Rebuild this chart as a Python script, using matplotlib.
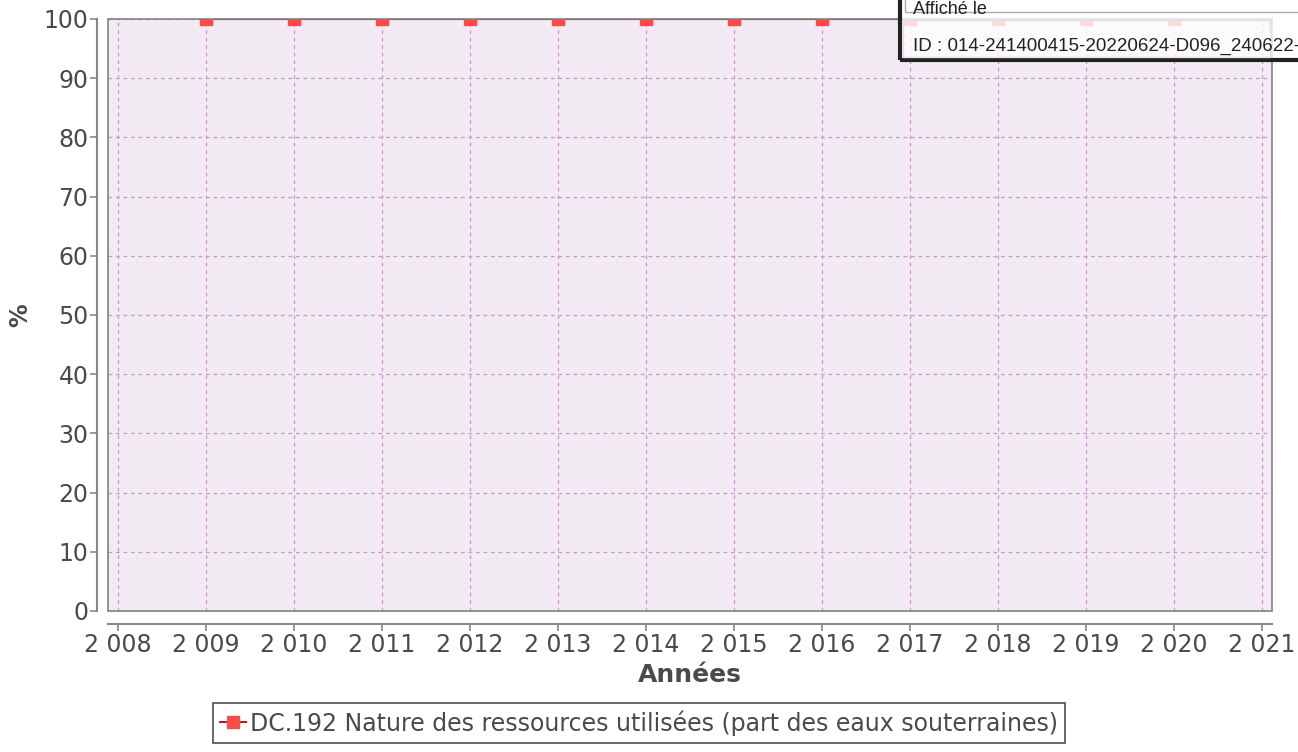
import numpy as np
import matplotlib.pyplot as plt
from matplotlib.patches import Rectangle
from matplotlib.ticker import FuncFormatter

# données
annees = [2009, 2010, 2011, 2012, 2013, 2014, 2015, 2016, 2017, 2018, 2019, 2020]
part_eaux_sout = [100, 100, 100, 100, 100, 100, 100, 100, 100, 100, 100, 100]
yticks = [0, 10, 20, 30, 40, 50, 60, 70, 80, 90, 100]
xticks = list(range(2008, 2022))
serie = "DC.192 Nature des ressources utilisées (part des eaux souterraines)"

W, H = 1298, 752
gris = "#4a4a4a"

fig = plt.figure(figsize=(W / 100, H / 100), dpi=100)
ax = fig.add_axes([108 / W, 1 - 611 / H, (1272 - 108) / W, (611 - 19) / H])

def px(x, y):
    # pixels image -> fraction de figure
    return x / W, 1 - y / H

ax.set_facecolor("#f3ebf3")
ax.plot(annees, part_eaux_sout, color="#b02020", lw=1.5, marker="s",
        markersize=9, markerfacecolor="#ff4a4a", markeredgecolor="#ff4a4a",
        label=serie, zorder=3)

ax.set_xlim(2008 - 10 / 88, 2021 + 10 / 88)
ax.set_ylim(0, 100)
ax.set_xticks(xticks)
ax.set_yticks(yticks)
ax.xaxis.set_major_formatter(FuncFormatter(lambda v, p: f"{int(v):,}".replace(",", " ")))
ax.grid(True, color="#c996cc", ls=(0, (3, 3)), lw=0.9)
ax.set_axisbelow(True)

# axes décalés façon JFreeChart
for s in ["top", "right"]:
    ax.spines[s].set_visible(False)
ax.spines["left"].set_position(("outward", 8))
ax.spines["bottom"].set_position(("outward", 9))
for s in ["left", "bottom"]:
    ax.spines[s].set_color("#888888")
    ax.spines[s].set_linewidth(1.5)
ax.add_patch(Rectangle((0, 0), 1, 1, transform=ax.transAxes, fill=False,
                       edgecolor="#808080", lw=1.2, clip_on=False, zorder=4))
ax.tick_params(colors="#888888", labelcolor=gris, labelsize=17, length=5, width=1.2)
ax.tick_params(axis="x", pad=2)
ax.tick_params(axis="y", pad=1)

ax.set_xlabel("Années", fontsize=18, fontweight="bold", color=gris, labelpad=4)
fig.text(*px(20, 315), "%", fontsize=17, fontweight="bold", color=gris,
         rotation=90, ha="center", va="center")

leg = ax.legend(loc="center", bbox_to_anchor=(px(639, 723)), bbox_transform=fig.transFigure,
                frameon=True, fancybox=False, fontsize=17, handlelength=1.1,
                handletextpad=0.2, borderpad=0.3, borderaxespad=0)
leg.get_frame().set_edgecolor("#222222")
leg.get_frame().set_linewidth(1.2)
for t in leg.get_texts():
    t.set_color(gris)

# tampon "Affiché le" en haut à droite
x0, y0 = px(900, 60)
fig.add_artist(Rectangle((x0, y0), 1 - x0 + 0.01, 1 - y0 + 0.01, transform=fig.transFigure,
                         facecolor="white", alpha=0.8, edgecolor="none", zorder=5))
fig.add_artist(Rectangle((x0, y0), 1 - x0 + 0.01, 1 - y0 + 0.01, transform=fig.transFigure,
                         fill=False, edgecolor="#222222", lw=3, zorder=6))
xa, ya = px(905, 12)
fig.add_artist(Rectangle((xa, ya), 1 - xa + 0.01, 0.05, transform=fig.transFigure,
                         facecolor="white", edgecolor="#aaaaaa", lw=1, zorder=6))
xb, yb = px(903, 57)
xc, yc = px(1270, 20)
fig.add_artist(Rectangle((xb, yb), xc - xb, yc - yb, transform=fig.transFigure,
                         fill=False, edgecolor="#e0e0e0", lw=1, zorder=6))
fig.text(*px(913, 9), "Affiché le", fontsize=13, family="Liberation Sans",
         color="#222222", va="center", zorder=7)
fig.text(*px(1165, 5), "SLO", fontsize=26, fontweight="bold", style="italic",
         family="Liberation Sans", color="#3b4a9e", va="bottom", zorder=7)
fig.text(*px(913, 46), "ID : 014-241400415-20220624-D096_240622-", fontsize=13.5,
         family="Liberation Sans", color="#222222", va="center", zorder=7)

fig.savefig("out.png", dpi=100)
